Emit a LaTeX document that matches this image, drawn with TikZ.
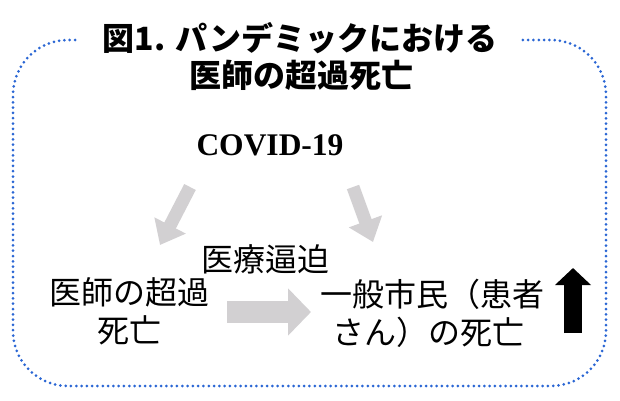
\documentclass[tikz,border=0pt]{standalone}
\usepackage{fontspec}
\setmainfont{Liberation Serif}
\newfontfamily\jp{Noto Sans CJK JP}
\usetikzlibrary{arrows.meta}
\definecolor{dotblue}{HTML}{2A66D4}
\definecolor{arrgray}{HTML}{D2D0D2}
\tikzset{
  frame/.style={draw=dotblue, line width=3pt, line cap=round, dash pattern=on 0pt off 5.3pt},
  titletext/.style={font=\jp\bfseries\fontsize{32}{36}\selectfont, inner sep=0pt},
  bodytext/.style={font=\jp\fontsize{32}{38}\selectfont, align=center, inner sep=0pt},
  covid/.style={font=\bfseries\fontsize{31.5}{36}\selectfont, inner sep=0pt},
  diagarrow/.style={draw=arrgray, line width=13pt, -{Triangle[length=22pt, width=34pt]}},
  flowarrow/.style={draw=arrgray, line width=22pt, -{Triangle[length=23pt, width=46pt]}},
  uparrow/.style={draw=black, line width=18pt, -{Triangle[length=17pt, width=35pt]}}
}
\begin{document}
\begin{tikzpicture}[x=1pt, y=1pt]
\useasboundingbox (0,0) rectangle (620,400);
% frame with gap for the title
\draw[frame, rounded corners=55pt] (75,360) -| (13,14) -| (606,360) -- (522,360);
% title
\node[titletext] (t1) at (300,362) {図1. パンデミックにおける};
\node[titletext] (t2) at (301,325) {医師の超過死亡};
% nodes
\node[covid] (covid) at (270,255) {COVID-19};
\node[bodytext] (left) at (129,89) {医師の超過\\死亡};
\node[bodytext] (right) at (432,87) {一般市民（患者\\さん）の死亡\hspace*{8pt}};
\node[font=\jp\fontsize{32}{38}\selectfont, inner sep=0pt] (iryo) at (265,141) {医療逼迫};
% arrow end points
\coordinate (la1) at (190,213);
\coordinate (la2) at (160,155);
\coordinate (ra1) at (353,213);
\coordinate (ra2) at (373,158);
\coordinate (fa1) at (227,88);
\coordinate (fa2) at (311,88);
\coordinate (ua1) at (573,67);
\coordinate (ua2) at (573,132);
\draw[diagarrow] (la1) -- (la2);
\draw[diagarrow] (ra1) -- (ra2);
\draw[flowarrow] (fa1) -- (fa2);
\draw[uparrow] (ua1) -- (ua2);
\end{tikzpicture}
\end{document}
